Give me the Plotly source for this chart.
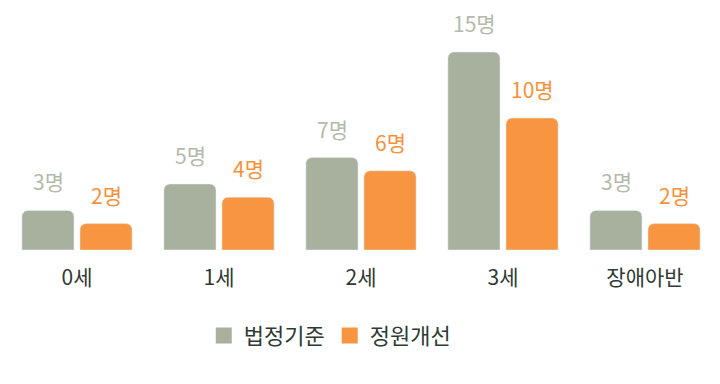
import plotly.graph_objects as go

categories = ["0세", "1세", "2세", "3세", "장애아반"]
legal = [3, 5, 7, 15, 3]
improved = [2, 4, 6, 10, 2]
series_names = ["법정기준", "정원개선"]

GRAY = "#a8b19e"
ORANGE = "#f89540"
GRAY_TXT = "#b3baab"
ORANGE_TXT = "#f7913a"
DARK = "#2f3a34"
FONT = "Noto Sans CJK KR"

fig = go.Figure()
fig.add_trace(go.Bar(x=categories, y=legal, name=series_names[0], marker_color=GRAY,
                     showlegend=False, hoverinfo="skip"))
fig.add_trace(go.Bar(x=categories, y=improved, name=series_names[1], marker_color=ORANGE,
                     showlegend=False, hoverinfo="skip"))
# legend entries
for nm, col in zip(series_names, [GRAY, ORANGE]):
    fig.add_trace(go.Scatter(x=[None], y=[None], mode="markers", name=nm,
                             marker=dict(symbol="square", size=20, color=col)))

annotations = []
for vals, shift, col in [(legal, -29, GRAY_TXT), (improved, 29, ORANGE_TXT)]:
    for c, v in zip(categories, vals):
        annotations.append(dict(x=c, y=v, xref="x", yref="y", text=f"{v}명",
                                showarrow=False, xshift=shift, yshift=29,
                                yanchor="middle",
                                font=dict(family=FONT, size=21, color=col)))

fig.update_layout(
    width=720, height=384,
    margin=dict(l=6, r=4, t=10, b=134, autoexpand=False),
    paper_bgcolor="white", plot_bgcolor="white",
    barmode="group", bargap=0.182, bargroupgap=0.103,
    barcornerradius=6,
    font=dict(family=FONT, size=21, color=DARK),
    xaxis=dict(showgrid=False, showline=False, zeroline=False, ticks="outside",
               ticklen=9, tickcolor="rgba(0,0,0,0)", automargin=False,
               tickfont=dict(family=FONT, size=21, color=DARK)),
    yaxis=dict(range=[0, 240 / 13.2], visible=False, automargin=False),
    legend=dict(orientation="h", x=0.456, xanchor="center", y=-0.27, yanchor="top",
                font=dict(family=FONT, size=22, color=DARK),
                itemsizing="trace"),
    annotations=annotations,
    showlegend=True,
)

fig.write_html("out.html", config={"displayModeBar": False},
               post_script="document.body.style.margin='0';")
